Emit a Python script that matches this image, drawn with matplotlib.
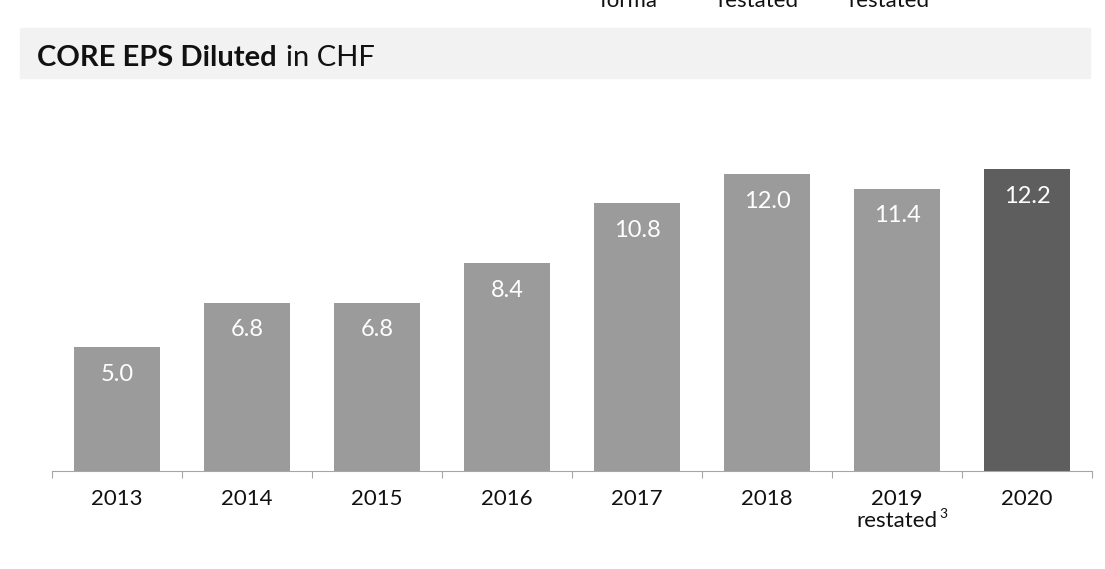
import matplotlib
matplotlib.use("Agg")
import matplotlib.pyplot as plt
from matplotlib.patches import Rectangle

# data
years = ["2013", "2014", "2015", "2016", "2017", "2018", "2019\nrestated", "2020"]
eps = [5.0, 6.8, 6.8, 8.4, 10.8, 12.0, 11.4, 12.2]
colors = ["#9b9b9b"] * 7 + ["#5e5e5e"]

plt.rcParams['font.family'] = ['Lato', 'DejaVu Sans']
plt.rcParams['mathtext.default'] = 'regular'

W, H = 1105, 569
fig = plt.figure(figsize=(W / 100, H / 100), dpi=100)

# grey title band
fig.patches.append(Rectangle((20 / W, 1 - 78 / H), 1070 / W, 50 / H,
                             transform=fig.transFigure, color="#f2f2f2", zorder=0))
t1 = fig.text(37 / W, 1 - 66 / H, "CORE EPS Diluted", fontsize=21, fontweight="bold",
              color="#111111", va="baseline")
fig.canvas.draw()
bb = t1.get_window_extent()
fig.text(bb.x1 / W + 9 / W, 1 - 66 / H, "in CHF", fontsize=21, color="#111111", va="baseline")

# legend remnants cut off at the top of the slide
for x, s in [(600, "forma"), (717, "restated"), (848, "restated")]:
    fig.text(x / W, 1 - 7 / H, s, fontsize=16, color="#111111", va="baseline")

ax = fig.add_axes([52 / W, 1 - 471 / H, 1040 / W, 322 / H])
x = range(len(years))
bars = ax.bar(x, eps, width=0.66, color=colors, zorder=2)
for b, v in zip(bars, eps):
    ax.text(b.get_x() + b.get_width() / 2, v - 1.1, f"{v:.1f}", ha="center", va="center",
            color="white", fontsize=17)

ax.set_xlim(-0.5, len(years) - 0.5)
ax.set_ylim(0, 13)
for s in ["top", "right", "left"]:
    ax.spines[s].set_visible(False)
ax.spines["bottom"].set_color("#a6a6a6")
ax.set_yticks([])
ax.set_xticks([i - 0.5 for i in range(len(years) + 1)], minor=False)
ax.set_xticklabels([])
ax.tick_params(axis="x", which="major", length=5, color="#a6a6a6", direction="out")
ax.set_xticks(list(x), minor=True)
ax.set_xticklabels(years, minor=True, fontsize=16, color="#111111", linespacing=1.1)
ax.tick_params(axis="x", which="minor", length=0, pad=13)
# superscript footnote mark on the restated label
ax.annotate("3", xy=(6, 0), xycoords="data", xytext=(46, -43), textcoords="offset pixels",
            fontsize=10, ha="center", va="center", color="#111111", annotation_clip=False)

fig.savefig("out.png", dpi=100)
